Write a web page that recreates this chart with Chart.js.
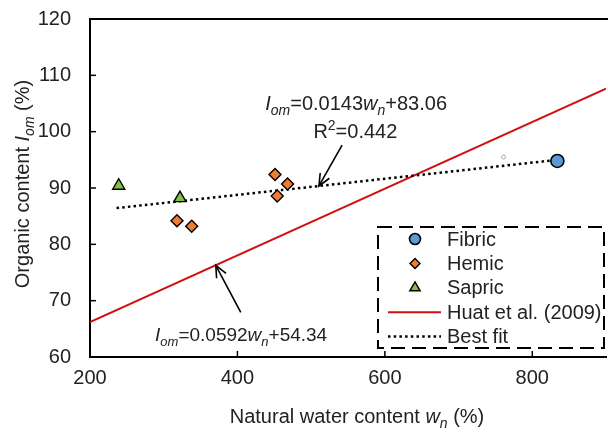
<!DOCTYPE html>
<html>
<head>
<meta charset="utf-8">
<script src="https://cdn.jsdelivr.net/npm/chart.js@4/dist/chart.umd.min.js"></script>
<style>
html,body{margin:0;padding:0;background:#fff;}
#wrap{width:608px;height:433px;position:relative;}
</style>
</head>
<body>
<div id="wrap"><canvas id="c" width="608" height="433"></canvas></div>
<script>
// ---- data ----
const fibricX = [834];
const fibricY = [94.8];
const hemicX = [318, 338, 451, 468, 454];
const hemicY = [84.2, 83.2, 92.4, 90.7, 88.6];
const sapricX = [239, 322];
const sapricY = [90.4, 88.2];
const strayX = [761];
const strayY = [95.5];
const huatX = [200, 900];
const huatY = [66.18, 107.62];   // Iom = 0.0592 wn + 54.34
const fitX = [236, 834];
const fitY = [86.43, 94.99];     // Iom = 0.0143 wn + 83.06
const xTicks = [200, 400, 600, 800];
const yTicks = [60, 70, 80, 90, 100, 110, 120];
const legendNames = ['Fibric', 'Hemic', 'Sapric', 'Huat et al. (2009)', 'Best fit'];

const FONT = '"Liberation Sans", Arial, sans-serif';
const pts = (xs, ys) => xs.map((x, i) => ({x, y: ys[i]}));

const datasets = [
  {label: legendNames[0], data: pts(fibricX, fibricY), showLine: false, pointStyle: 'circle', pointRadius: 6.5,
   backgroundColor: '#5B9BD5', borderColor: '#000', borderWidth: 1.6, order: 1},
  {label: legendNames[1], data: pts(hemicX, hemicY), showLine: false, pointStyle: 'rectRot', pointRadius: 6,
   backgroundColor: '#ED7D31', borderColor: '#000', borderWidth: 1.4, order: 1},
  {label: legendNames[2], data: pts(sapricX, sapricY), showLine: false, pointStyle: 'triangle', pointRadius: 7,
   backgroundColor: '#7EC242', borderColor: '#000', borderWidth: 1.4, order: 1},
  {label: legendNames[3], data: pts(huatX, huatY), showLine: true, pointRadius: 0, borderColor: '#D01010',
   borderWidth: 2, backgroundColor: '#D01010', order: 3},
  {label: legendNames[4], data: pts(fitX, fitY), showLine: true, pointRadius: 0, borderColor: '#000',
   borderWidth: 2.5, borderDash: [2.5, 3.2], backgroundColor: '#000', order: 2},
  {label: '_stray', data: pts(strayX, strayY), showLine: false, pointStyle: 'circle', pointRadius: 2,
   backgroundColor: '#fff', borderColor: '#A8A8C0', borderWidth: 1, order: 4}
];

function drawRich(ctx, parts, x, y, align, size) {
  const subSize = Math.round(size * 0.68);
  const setFont = p => {
    const s = p.sub || p.sup ? subSize : size;
    ctx.font = (p.it ? 'italic ' : '') + s + 'px ' + FONT;
  };
  let total = 0;
  parts.forEach(p => { setFont(p); p.w = ctx.measureText(p.t).width; total += p.w; });
  let cx = align === 'center' ? x - total / 2 : (align === 'right' ? x - total : x);
  ctx.textAlign = 'left';
  ctx.textBaseline = 'alphabetic';
  parts.forEach(p => {
    setFont(p);
    let dy = 0;
    if (p.sub) dy = size * 0.25;
    if (p.sup) dy = -size * 0.38;
    ctx.fillText(p.t, cx, y + dy);
    cx += p.w;
  });
}

function arrow(ctx, x1, y1, x2, y2) {
  ctx.save();
  ctx.strokeStyle = '#000';
  ctx.lineWidth = 1.6;
  ctx.beginPath(); ctx.moveTo(x1, y1); ctx.lineTo(x2, y2); ctx.stroke();
  const a = Math.atan2(y2 - y1, x2 - x1), L = 13, s = 0.42;
  ctx.beginPath();
  ctx.moveTo(x2 - L * Math.cos(a - s), y2 - L * Math.sin(a - s));
  ctx.lineTo(x2, y2);
  ctx.lineTo(x2 - L * Math.cos(a + s), y2 - L * Math.sin(a + s));
  ctx.stroke();
  ctx.restore();
}

const noPad = s => { s.paddingTop = 0; s.paddingBottom = 0; s.paddingLeft = 0; s.paddingRight = 0; };

const deco = {
  id: 'deco',
  afterDraw(chart) {
    const ctx = chart.ctx, xs = chart.scales.x, ys = chart.scales.y, ca = chart.chartArea;
    ctx.save();
    // top border
    ctx.strokeStyle = '#000'; ctx.lineWidth = 2;
    ctx.beginPath(); ctx.moveTo(ca.left - 1, ca.top); ctx.lineTo(ca.right + 2, ca.top); ctx.stroke();
    // inward ticks
    ctx.lineWidth = 1.5;
    yTicks.forEach(v => { const py = ys.getPixelForValue(v); ctx.beginPath(); ctx.moveTo(ca.left, py); ctx.lineTo(ca.left + 6, py); ctx.stroke(); });
    xTicks.forEach(v => { const px = xs.getPixelForValue(v); ctx.beginPath(); ctx.moveTo(px, ca.bottom); ctx.lineTo(px, ca.bottom - 6); ctx.stroke(); });

    ctx.fillStyle = '#222';
    // annotations
    drawRich(ctx, [{t:'I',it:1},{t:'om',it:1,sub:1},{t:'=0.0143'},{t:'w',it:1},{t:'n',it:1,sub:1},{t:'+83.06'}],
      xs.getPixelForValue(561), ys.getPixelForValue(103.9), 'center', 20);
    drawRich(ctx, [{t:'R'},{t:'2',sup:1},{t:'=0.442'}],
      xs.getPixelForValue(560), ys.getPixelForValue(98.9), 'center', 20);
    drawRich(ctx, [{t:'I',it:1},{t:'om',it:1,sub:1},{t:'=0.0592'},{t:'w',it:1},{t:'n',it:1,sub:1},{t:'+54.34'}],
      xs.getPixelForValue(405), ys.getPixelForValue(62.8), 'center', 19);
    arrow(ctx, xs.getPixelForValue(542), ys.getPixelForValue(97.6), xs.getPixelForValue(510.6), ys.getPixelForValue(90.36));
    arrow(ctx, xs.getPixelForValue(404.5), ys.getPixelForValue(67.9), xs.getPixelForValue(370.6), ys.getPixelForValue(76.28));

    // axis titles
    drawRich(ctx, [{t:'Natural water content '},{t:'w',it:1},{t:'n',it:1,sub:1},{t:' (%)'}], 357, 423, 'center', 20);
    ctx.save();
    ctx.translate(29, 184);
    ctx.rotate(-Math.PI / 2);
    drawRich(ctx, [{t:'Organic content '},{t:'I',it:1},{t:'om',it:1,sub:1},{t:' (%)'}], 0, 0, 'center', 20);
    ctx.restore();

    // legend box
    const bx = 378, by = 227, bw = 226, bh = 121;
    ctx.fillStyle = '#fff';
    ctx.fillRect(bx, by, bw, bh);
    ctx.setLineDash([14, 7]);
    ctx.lineWidth = 2; ctx.strokeStyle = '#000';
    ctx.strokeRect(bx, by, bw, bh);
    ctx.setLineDash([]);
    const rowY0 = 239, rowH = 24.4;
    for (let i = 0; i < 5; i++) {
      const d = chart.data.datasets[i];
      const ry = rowY0 + i * rowH;
      if (d.showLine) {
        ctx.save();
        ctx.strokeStyle = d.borderColor; ctx.lineWidth = d.borderWidth;
        ctx.setLineDash(d.borderDash || []);
        ctx.beginPath(); ctx.moveTo(388, ry); ctx.lineTo(441, ry); ctx.stroke();
        ctx.restore();
      } else {
        ctx.save();
        ctx.fillStyle = d.backgroundColor; ctx.strokeStyle = d.borderColor; ctx.lineWidth = d.borderWidth;
        Chart.helpers.drawPoint(ctx, {pointStyle: d.pointStyle, radius: d.pointRadius - 1, borderWidth: d.borderWidth}, 415, ry);
        ctx.restore();
      }
      ctx.fillStyle = '#222';
      ctx.font = '20px ' + FONT;
      ctx.textAlign = 'left'; ctx.textBaseline = 'middle';
      ctx.fillText(d.label, 447, ry + 1);
    }
    ctx.restore();
  }
};

new Chart(document.getElementById('c'), {
  type: 'scatter',
  data: {datasets},
  options: {
    responsive: false,
    animation: false,
    devicePixelRatio: 1,
    layout: {autoPadding: false, padding: {left: 0, right: 2, top: 19, bottom: 43}},
    plugins: {legend: {display: false}, tooltip: {enabled: false}},
    scales: {
      x: {
        type: 'linear', min: 200, max: 900,
        afterBuildTicks: s => { s.ticks = xTicks.map(v => ({value: v})); },
        afterFit: s => { s.height = 33; noPad(s); },
        grid: {display: false, drawTicks: false, tickLength: 0},
        border: {display: true, color: '#000', width: 2},
        ticks: {color: '#222', font: {family: FONT, size: 20}, padding: 9, maxRotation: 0}
      },
      y: {
        type: 'linear', min: 60, max: 120,
        afterBuildTicks: s => { s.ticks = yTicks.map(v => ({value: v})); },
        afterFit: s => { s.width = 90; noPad(s); },
        grid: {display: false, drawTicks: false, tickLength: 0},
        border: {display: true, color: '#000', width: 2},
        ticks: {color: '#222', font: {family: FONT, size: 20}, padding: 19}
      }
    }
  },
  plugins: [deco]
});
</script>
</body>
</html>
